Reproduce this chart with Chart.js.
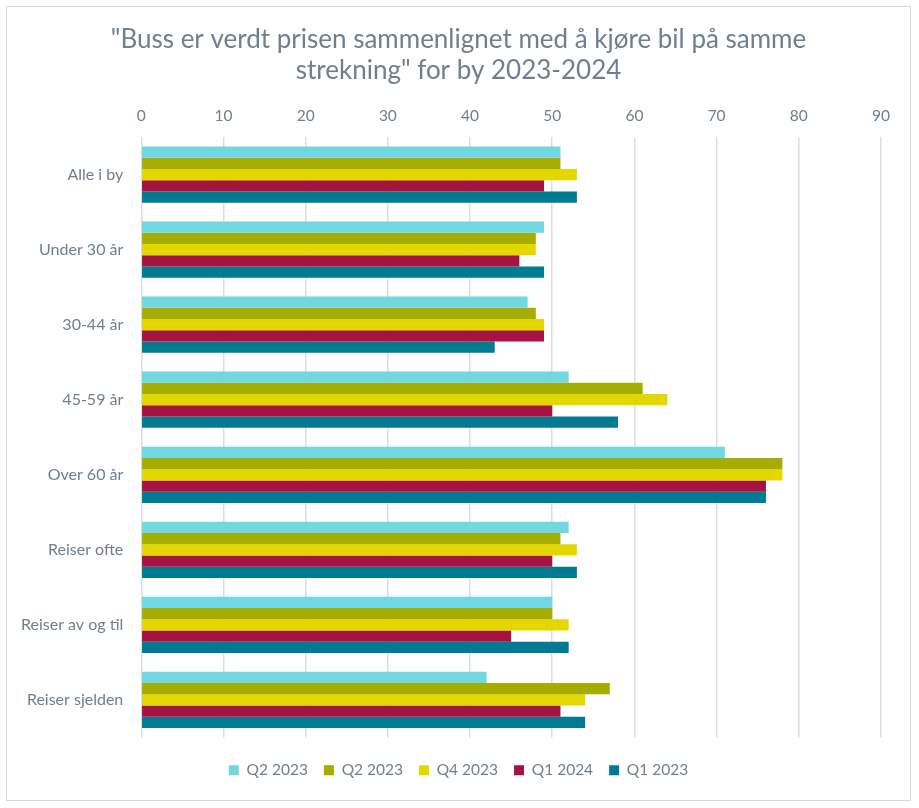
<!DOCTYPE html>
<html>
<head>
<meta charset="utf-8">
<script src="https://cdn.jsdelivr.net/npm/chart.js@4.4.1/dist/chart.umd.min.js"></script>
<style>
  body { margin: 0; background: #fff; }
  #wrap { position: absolute; left: 6px; top: 6px; width: 905px; height: 795px; border: 1px solid #d9d9d9; box-sizing: border-box; }
</style>
</head>
<body>
<div id="wrap"><canvas id="chart"></canvas></div>
<script>
const categories = ["Alle i by", "Under 30 år", "30-44 år", "45-59 år", "Over 60 år", "Reiser ofte", "Reiser av og til", "Reiser sjelden"];
const seriesNames = ["Q2 2023", "Q2 2023", "Q4 2023", "Q1 2024", "Q1 2023"];
const q2a = [51, 49, 47, 52, 71, 52, 50, 42];
const q2b = [51, 48, 48, 61, 78, 51, 50, 57];
const q4 = [53, 48, 49, 64, 78, 53, 52, 54];
const q1_2024 = [49, 46, 49, 50, 76, 50, 45, 51];
const q1_2023 = [53, 49, 43, 58, 76, 53, 52, 54];
const colors = ["#71d7e1", "#a5ad00", "#e4d700", "#a51341", "#007b92"];
const textColor = "#6f7f8e";
const font = "Lato, 'Open Sans', sans-serif";

const values = [q2a, q2b, q4, q1_2024, q1_2023];

// centre title and legend on the full canvas, not the padded area
const centerBoxes = {
    id: 'centerBoxes',
    afterLayout(chart) {
        [chart.titleBlock, chart.legend].forEach((b) => {
            if (!b) return;
            b.left = 0;
            b.right = chart.width;
            b.width = chart.width;
        });
    }
};

new Chart('chart', {
    type: 'bar',
    data: {
        labels: categories,
        datasets: values.map((v, i) => ({
            label: seriesNames[i],
            data: v,
            backgroundColor: colors[i],
            borderWidth: 0,
            barPercentage: 1,
            categoryPercentage: 0.75
        }))
    },
    options: {
        indexAxis: 'y',
        responsive: true,
        maintainAspectRatio: false,
        animation: false,
        layout: { padding: { left: 4, right: 29, top: 11, bottom: 12 } },
        scales: {
            x: {
                position: 'top',
                min: 0,
                max: 90,
                ticks: { stepSize: 10, color: textColor, font: { family: font, size: 15.5 }, padding: 12 },
                grid: { color: '#dadde2', lineWidth: 1.5, drawTicks: false },
                border: { display: false }
            },
            gap: {
                type: 'linear',
                position: 'bottom',
                axis: 'x',
                ticks: { display: false },
                grid: { display: false },
                border: { display: false },
                afterFit: (s) => { s.height = 9; }
            },
            y: {
                ticks: { color: textColor, font: { family: font, size: 16 }, padding: 10 },
                grid: { display: false },
                border: { display: false }
            }
        },
        plugins: {
            title: {
                display: true,
                text: ['"Buss er verdt prisen sammenlignet med å kjøre bil på samme', 'strekning" for by 2023-2024'],
                color: textColor,
                font: { family: font, size: 26, weight: 'normal' },
                padding: { top: 6, bottom: 8 },
                lineHeight: 1.26
            },
            legend: {
                position: 'bottom',
                labels: { color: textColor, font: { family: font, size: 15.5 }, boxWidth: 10, boxHeight: 10, padding: 16 }
            },
            tooltip: { enabled: false }
        }
    },
    plugins: [centerBoxes]
});
</script>
</body>
</html>
